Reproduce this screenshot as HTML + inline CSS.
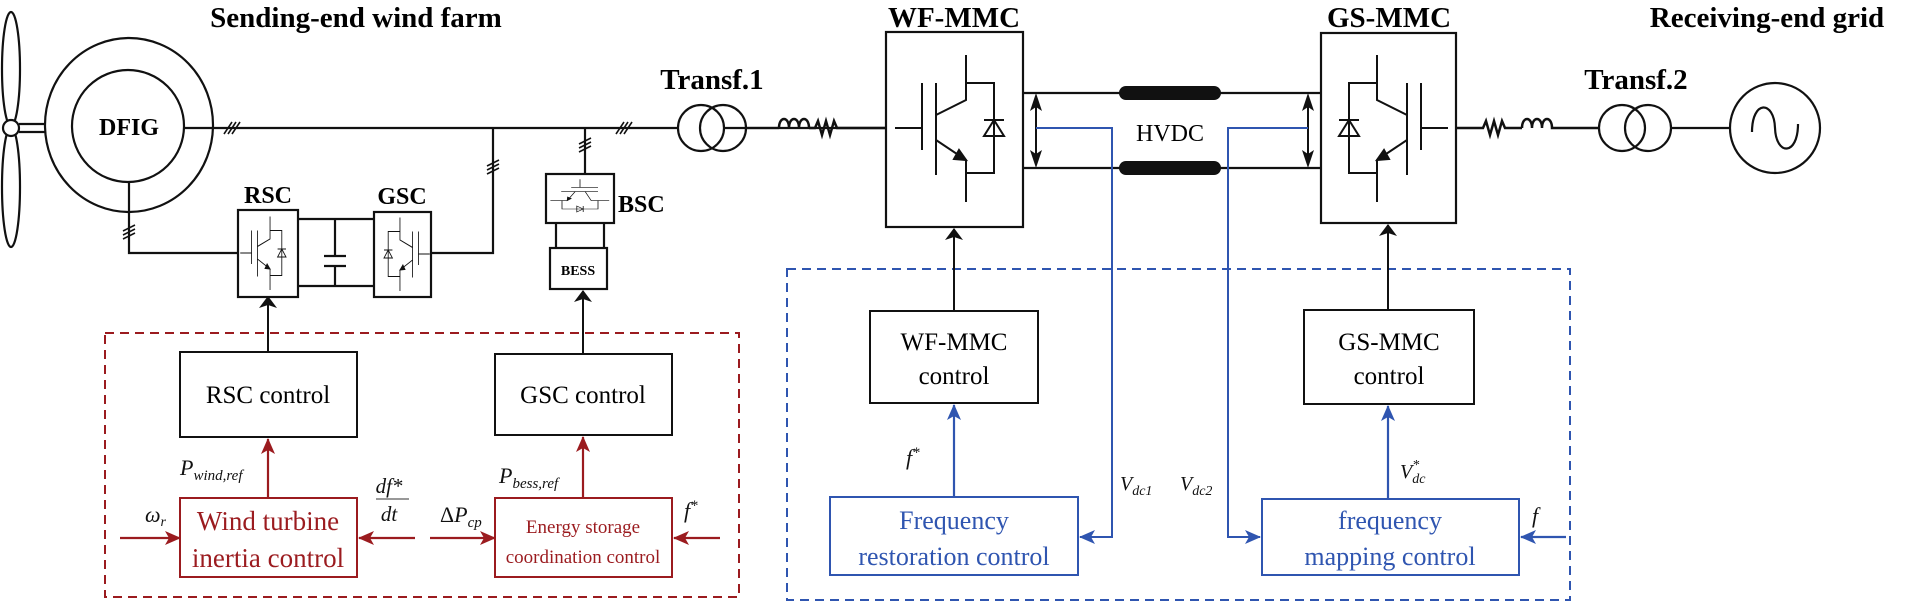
<!DOCTYPE html>
<html><head><meta charset="utf-8"><style>
body{margin:0;background:#fff}
svg{display:block}
text{font-family:"Liberation Serif",serif}
.b{font-weight:bold}
</style></head><body>
<svg width="1906" height="605" viewBox="0 0 1906 605" xmlns="http://www.w3.org/2000/svg">
<defs>
<marker id="ar" markerWidth="16" markerHeight="14" refX="15" refY="7" orient="auto" markerUnits="userSpaceOnUse"><path d="M0,0 L16,7 L0,14 L4,7z" fill="#9b1b1f"/></marker>
<marker id="ab" markerWidth="16" markerHeight="14" refX="15" refY="7" orient="auto" markerUnits="userSpaceOnUse"><path d="M0,0 L16,7 L0,14 L4,7z" fill="#2f55b0"/></marker>
<marker id="ab2" markerWidth="12" markerHeight="18" refX="11" refY="9" orient="auto" markerUnits="userSpaceOnUse"><path d="M0,0 L12,9 L0,18 L3,9z" fill="#111"/></marker>
<g id="igbt" fill="none" stroke="#111" stroke-width="2">
<path d="M-59,0 H-32 M-32,-45 V22 M-18,-45 V47 M-18,-13 L12,-28 V-73 M-18,12 L12,32 V74 M12,-45 H40 V45 H12"/>
<path d="M30,8 L50,8 L40,-8 Z M30,-8 H50"/>
<path d="M12,32 L0,31 L5,22 Z" fill="#111"/>
</g>
<g id="hash" stroke="#111" stroke-width="1.6"><path d="M-6,6 L2,-6 M-2,6 L6,-6 M2,6 L10,-6"/></g>
<g id="hashv" stroke="#111" stroke-width="1.6"><path d="M-6,-4 L6,-10 M-6,0 L6,-6 M-6,4 L6,-2"/></g>
<g id="dbl"><path d="M0,8 V67" stroke="#111" stroke-width="2"/><path d="M0,0 L-6,18 L0,14 L6,18Z M0,75 L-6,57 L0,61 L6,57Z" fill="#111"/></g>
</defs>

<text x="356" y="27" font-size="29" class="b" text-anchor="middle">Sending-end wind farm</text>
<text x="954" y="27" font-size="29" class="b" text-anchor="middle">WF-MMC</text>
<text x="1389" y="27" font-size="29" class="b" text-anchor="middle">GS-MMC</text>
<text x="1767" y="27" font-size="29" class="b" text-anchor="middle">Receiving-end grid</text>
<text x="712" y="89" font-size="29" class="b" text-anchor="middle">Transf.1</text>
<text x="1636" y="89" font-size="29" class="b" text-anchor="middle">Transf.2</text>

<g fill="none" stroke="#111" stroke-width="2.2">
<ellipse cx="11" cy="69" rx="9" ry="57"/>
<ellipse cx="11" cy="187" rx="9" ry="60"/>
<circle cx="11" cy="128" r="8" fill="#fff"/>
<path d="M19,124 H45 M19,132 H45"/>
<ellipse cx="129" cy="125" rx="84" ry="87"/>
<circle cx="128" cy="126" r="56"/>
<path d="M184,128 H886"/>
<path d="M129,182 V253 H238"/>
<path d="M493,128 V253 H431"/>
<path d="M298,219 H374 M298,286 H374 M335,219 V256 M335,266 V286 M324,256 H346 M324,266 H346"/>
<rect x="238" y="210" width="60" height="87"/>
<rect x="374" y="212" width="57" height="85"/>
<path d="M585,128 V174"/>
<rect x="546" y="174" width="68" height="49"/>
<path d="M556,223 V248 M604,223 V248"/>
<rect x="550" y="248" width="57" height="41"/>
<circle cx="701" cy="128" r="23" fill="#fff"/>
<circle cx="723" cy="128" r="23"/>
<path d="M746,128 H779"/>
<path d="M779,128 c0,-12 10,-12 10,0 c0,-12 10,-12 10,0 c0,-12 10,-12 10,0" stroke-width="2.5"/>
<path d="M809,128 H815 l3,-7 l4,14 l4,-14 l4,14 l4,-14 l3,7 H886" stroke-width="2.5"/>
<rect x="886" y="32" width="137" height="195"/>
<rect x="1321" y="33" width="135" height="190"/>
<path d="M1023,93 H1321 M1023,168 H1321"/>
<path d="M1456,128 H1483 l3,-7 l4,14 l4,-14 l4,14 l4,-14 l3,7 H1522" stroke-width="2.5"/>
<path d="M1522,128 c0,-12 10,-12 10,0 c0,-12 10,-12 10,0 c0,-12 10,-12 10,0 H1599" stroke-width="2.5"/>
<circle cx="1622" cy="128" r="23" fill="#fff"/>
<circle cx="1648" cy="128" r="23"/>
<path d="M1671,128 H1730"/>
<circle cx="1775" cy="128" r="45"/>
<path d="M1752,132 c0,-32 22,-32 23,-4 c1,28 23,28 23,-4"/>
</g>
<use href="#hash" x="230" y="128"/>
<use href="#hash" x="622" y="128"/>
<use href="#hashv" x="493" y="170"/>
<use href="#hashv" x="585" y="148"/>
<use href="#hashv" x="129" y="235"/>
<rect x="1119" y="86" width="102" height="14" rx="7" fill="#111"/>
<rect x="1119" y="161" width="102" height="14" rx="7" fill="#111"/>
<text x="1170" y="141" font-size="24" text-anchor="middle">HVDC</text>
<use href="#dbl" x="1036" y="93"/>
<use href="#dbl" x="1308" y="93"/>
<use href="#igbt" transform="translate(954,128)"/>
<use href="#igbt" transform="translate(1389,128) scale(-1,1)"/>
<use href="#igbt" transform="translate(265,253) scale(0.42,0.5)"/>
<use href="#igbt" transform="translate(405,254) scale(-0.42,0.5)"/>
<use href="#igbt" transform="translate(580,197) rotate(90) scale(0.3,0.4)"/>
<text x="268" y="203" font-size="24" class="b" text-anchor="middle">RSC</text>
<text x="402" y="204" font-size="24" class="b" text-anchor="middle">GSC</text>
<text x="618" y="212" font-size="24" class="b">BSC</text>
<text x="578" y="275" font-size="14" class="b" text-anchor="middle">BESS</text>
<text x="129" y="135" font-size="24" class="b" text-anchor="middle">DFIG</text>

<path d="M1036,128 H1112 V537 H1080" fill="none" stroke="#2f55b0" stroke-width="2" marker-end="url(#ab)"/>
<path d="M1308,128 H1228 V537 H1260" fill="none" stroke="#2f55b0" stroke-width="2" marker-end="url(#ab)"/>

<rect x="105" y="333" width="634" height="264" fill="none" stroke="#9b1b1f" stroke-width="2" stroke-dasharray="9,6"/>
<rect x="787" y="269" width="783" height="331" fill="none" stroke="#2f55b0" stroke-width="2" stroke-dasharray="9,6"/>

<g fill="none" stroke="#111" stroke-width="2">
<rect x="180" y="352" width="177" height="85"/>
<rect x="495" y="354" width="177" height="81"/>
<rect x="870" y="311" width="168" height="92"/>
<rect x="1304" y="310" width="170" height="94"/>
</g>
<path d="M268,352 V297" stroke="#111" stroke-width="2" marker-end="url(#ab2)"/>
<path d="M583,354 V291" stroke="#111" stroke-width="2" marker-end="url(#ab2)"/>
<path d="M954,311 V229" stroke="#111" stroke-width="2" marker-end="url(#ab2)"/>
<path d="M1388,310 V225" stroke="#111" stroke-width="2" marker-end="url(#ab2)"/>
<text x="268" y="403" font-size="25" text-anchor="middle">RSC control</text>
<text x="583" y="403" font-size="25" text-anchor="middle">GSC control</text>
<text x="954" y="350" font-size="25" text-anchor="middle">WF-MMC</text>
<text x="954" y="384" font-size="25" text-anchor="middle">control</text>
<text x="1389" y="350" font-size="25" text-anchor="middle">GS-MMC</text>
<text x="1389" y="384" font-size="25" text-anchor="middle">control</text>

<g fill="none" stroke="#9b1b1f" stroke-width="2">
<rect x="180" y="498" width="177" height="79"/>
<rect x="495" y="498" width="177" height="79"/>
</g>
<g stroke="#9b1b1f" stroke-width="2.2" fill="none">
<path d="M268,498 V439" marker-end="url(#ar)"/>
<path d="M583,498 V437" marker-end="url(#ar)"/>
<path d="M120,538 H180" marker-end="url(#ar)"/>
<path d="M415,538 H359" marker-end="url(#ar)"/>
<path d="M430,538 H495" marker-end="url(#ar)"/>
<path d="M720,538 H674" marker-end="url(#ar)"/>
</g>
<g fill="#9b1b1f">
<text x="268" y="530" font-size="27" text-anchor="middle">Wind turbine</text>
<text x="268" y="567" font-size="27" text-anchor="middle">inertia control</text>
<text x="583" y="533" font-size="19" text-anchor="middle">Energy storage</text>
<text x="583" y="563" font-size="19" text-anchor="middle">coordination control</text>
</g>
<g font-style="italic" fill="#111">
<text x="180" y="475" font-size="22">P<tspan font-size="15" dy="5">wind,ref</tspan></text>
<text x="499" y="483" font-size="22">P<tspan font-size="15" dy="5">bess,ref</tspan></text>
<text x="145" y="522" font-size="22">ω<tspan font-size="14" dy="4">r</tspan></text>
<text x="389" y="493" font-size="21" text-anchor="middle">df*</text>
<line x1="376" y1="499" x2="409" y2="499" stroke="#777" stroke-width="1.5"/>
<text x="389" y="521" font-size="21" text-anchor="middle">dt</text>
<text x="440" y="522" font-size="22" font-style="normal">Δ<tspan font-style="italic">P</tspan><tspan font-size="15" dy="5" font-style="italic">cp</tspan></text>
<text x="684" y="518" font-size="22">f<tspan font-size="15" dy="-8">*</tspan></text>
<text x="906" y="465" font-size="22">f<tspan font-size="15" dy="-8">*</tspan></text>
<text x="1120" y="490" font-size="20">V<tspan font-size="14" dy="5">dc1</tspan></text>
<text x="1180" y="490" font-size="20">V<tspan font-size="14" dy="5">dc2</tspan></text>
<text x="1400" y="478" font-size="20">V<tspan font-size="14" dy="-9">*</tspan><tspan font-size="14" dx="-7" dy="14">dc</tspan></text>
<text x="1532" y="523" font-size="22">f</text>
</g>

<g fill="none" stroke="#2f55b0" stroke-width="2">
<rect x="830" y="497" width="248" height="78"/>
<rect x="1262" y="499" width="257" height="76"/>
</g>
<path d="M954,497 V405" stroke="#2f55b0" stroke-width="2.2" marker-end="url(#ab)"/>
<path d="M1388,499 V406" stroke="#2f55b0" stroke-width="2.2" marker-end="url(#ab)"/>
<path d="M1566,537 H1521" stroke="#2f55b0" stroke-width="2.2" marker-end="url(#ab)"/>
<g fill="#2f55b0">
<text x="954" y="529" font-size="26" text-anchor="middle">Frequency</text>
<text x="954" y="565" font-size="26" text-anchor="middle">restoration control</text>
<text x="1390" y="529" font-size="26" text-anchor="middle">frequency</text>
<text x="1390" y="565" font-size="26" text-anchor="middle">mapping control</text>
</g>
</svg>
</body></html>
